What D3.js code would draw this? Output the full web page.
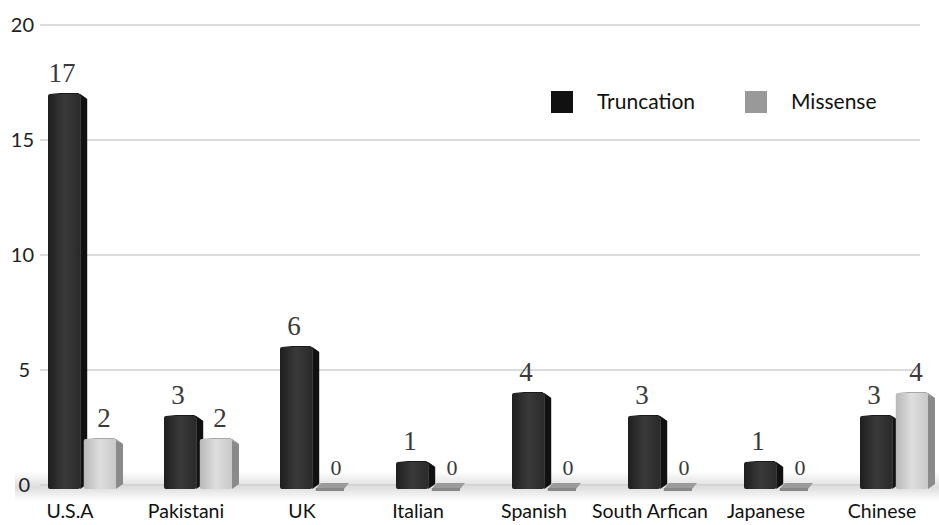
<!DOCTYPE html>
<html>
<head>
<meta charset="utf-8">
<script src="https://cdnjs.cloudflare.com/ajax/libs/d3/7.8.5/d3.min.js"></script>
<style>
  body { margin: 0; background: #fff; }
  svg { display: block; }
</style>
</head>
<body>
<svg id="chart" width="939" height="525"></svg>
<script>
// data
const categories = ["U.S.A", "Pakistani", "UK", "Italian", "Spanish", "South Arfican", "Japanese", "Chinese"];
const truncation = [17, 3, 6, 1, 4, 3, 1, 3];
const missense = [2, 2, 0, 0, 0, 0, 0, 4];
const yTicks = [0, 5, 10, 15, 20];
const seriesNames = ["Truncation", "Missense"];

const width = 939, height = 525;
const svg = d3.select("#chart");

const x = d3.scaleBand().domain(categories).range([22, 950]);
const sub = d3.scaleBand().domain(seriesNames).range([-32, 36]).paddingInner(0.1);
const y = d3.scaleLinear().domain([0, 20]).range([485, 25]);

const defs = svg.append("defs");
const floor = defs.append("linearGradient").attr("id", "floor")
  .attr("x1", 0).attr("x2", 0).attr("y1", 0).attr("y2", 1);
floor.append("stop").attr("offset", "0%").attr("stop-color", "#fff");
floor.append("stop").attr("offset", "55%").attr("stop-color", "#dedede");
floor.append("stop").attr("offset", "100%").attr("stop-color", "#fff");

function faceGrad(id, c1, c2, c3) {
  const g = defs.append("linearGradient").attr("id", id);
  g.append("stop").attr("offset", "0%").attr("stop-color", c1);
  g.append("stop").attr("offset", "50%").attr("stop-color", c2);
  g.append("stop").attr("offset", "100%").attr("stop-color", c3);
}
faceGrad("truncFront", "#1e1e1e", "#3a3a3a", "#2a2a2a");
faceGrad("missFront", "#b8b8b8", "#dedede", "#c9c9c9");

// floor band
svg.append("rect").attr("x", 15).attr("y", y(0) - 14).attr("width", width - 15).attr("height", 30)
  .attr("fill", "url(#floor)");

// gridlines
svg.append("g").selectAll("line").data(yTicks).join("line")
  .attr("x1", 40).attr("x2", 920)
  .attr("y1", d => y(d)).attr("y2", d => y(d))
  .attr("stroke", "#cfcfcf").attr("stroke-width", 1.3);

// y labels
svg.append("g").selectAll("text").data(yTicks).join("text")
  .attr("x", d => d < 10 ? 30 : 34).attr("y", d => y(d) + 7)
  .attr("text-anchor", "end")
  .attr("font-family", "Lato, 'Open Sans', sans-serif")
  .attr("font-size", 20).attr("fill", "#222")
  .text(d => d);

const depth = 7;
const bars = [];
categories.forEach((c, i) => {
  bars.push({ cat: c, s: "Truncation", v: truncation[i] });
  bars.push({ cat: c, s: "Missense", v: missense[i] });
});

const g = svg.append("g");
bars.forEach(b => {
  const x0 = x(b.cat) + x.bandwidth() / 2 + sub(b.s);
  const w = sub.bandwidth();
  const top = y(b.v), base = y(0) + 4;
  const dark = b.s === "Truncation";
  if (b.v === 0) {
    // flat slab
    g.append("path")
      .attr("d", `M${x0},${base} L${x0 + w - 4},${base} L${x0 + w + depth - 6},${base - 6} L${x0 + depth - 2},${base - 6} Z`)
      .attr("fill", "#9a9a9a");
    g.append("rect").attr("x", x0).attr("y", base - 1).attr("width", w - 4).attr("height", 3).attr("fill", "#888");
    return;
  }
  // side face
  g.append("path")
    .attr("d", `M${x0 + w},${top} L${x0 + w + depth},${top + 5} L${x0 + w + depth},${base - 5} L${x0 + w},${base} Z`)
    .attr("fill", dark ? "#111" : "#8a8a8a");
  // top face
  g.append("path")
    .attr("d", `M${x0 + 2},${top - 1} L${x0 + w - 2},${top - 1} L${x0 + w + depth},${top + 5} L${x0 + w},${top + 2} Z`)
    .attr("fill", dark ? "#1a1a1a" : "#a8a8a8");
  // front face
  g.append("rect").attr("x", x0).attr("y", top).attr("width", w).attr("height", base - top)
    .attr("rx", 2)
    .attr("fill", dark ? "url(#truncFront)" : "url(#missFront)");
});

// value labels
svg.append("g").selectAll("text").data(bars).join("text")
  .attr("x", d => x(d.cat) + x.bandwidth() / 2 + sub(d.s) + sub.bandwidth() / 2 + (d.s === "Missense" ? 4 : -2))
  .attr("y", d => d.v === 0 ? y(0) - 10 : y(d.v) - 12)
  .attr("text-anchor", "middle")
  .attr("font-family", "'Liberation Serif', 'DejaVu Serif', serif")
  .attr("font-size", d => d.v === 0 ? 22 : 27)
  .attr("fill", "#3a3a3a")
  .text(d => d.v);

// category labels
svg.append("g").selectAll("text").data(categories).join("text")
  .attr("x", d => x(d) + x.bandwidth() / 2 - 10).attr("y", 518)
  .attr("text-anchor", "middle")
  .attr("font-family", "Lato, 'Open Sans', sans-serif")
  .attr("font-size", 19.5).attr("fill", "#111")
  .text(d => d);

// legend
const legend = svg.append("g");
const legendX = [551, 745];
seriesNames.forEach((s, i) => {
  legend.append("rect").attr("x", legendX[i]).attr("y", 91).attr("width", 22).attr("height", 22)
    .attr("fill", i === 0 ? "#111" : "#999");
  legend.append("text").attr("x", legendX[i] + 46).attr("y", 109)
    .attr("font-family", "Lato, 'Open Sans', sans-serif")
    .attr("font-size", 21).attr("fill", "#111")
    .text(s);
});
</script>
</body>
</html>
